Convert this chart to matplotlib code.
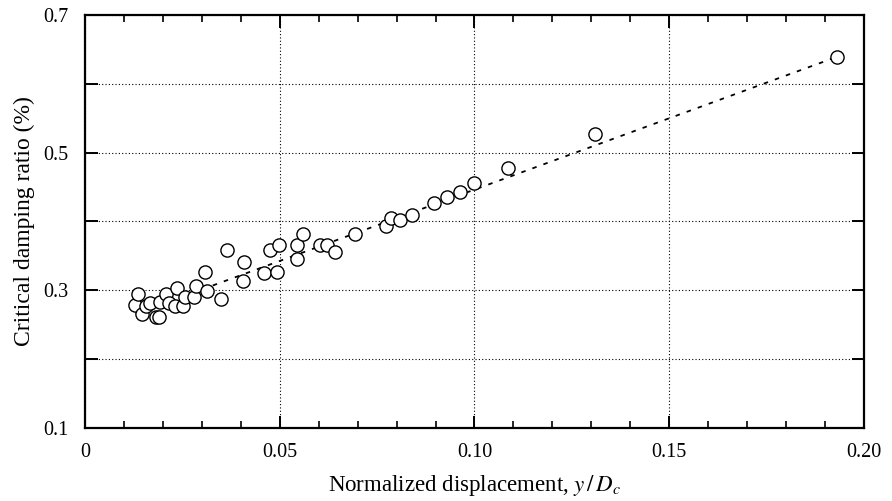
import numpy as np
import matplotlib.pyplot as plt
from matplotlib.ticker import MultipleLocator, FixedFormatter, FixedLocator

plt.rcParams['font.family'] = ['Liberation Serif', 'DejaVu Serif']
plt.rcParams['mathtext.fontset'] = 'stix'

# Normalized displacement y/Dc and critical damping ratio (%)
disp = [0.0128, 0.0136, 0.0146, 0.0157, 0.0167, 0.0182, 0.0190, 0.0193, 0.0208,
        0.0216, 0.0231, 0.0236, 0.0252, 0.0257, 0.0280, 0.0285, 0.0308, 0.0313,
        0.0349, 0.0364, 0.0406, 0.0408, 0.0460, 0.0475, 0.0493, 0.0498, 0.0544,
        0.0544, 0.0560, 0.0603, 0.0621, 0.0642, 0.0693, 0.0773, 0.0786, 0.0809,
        0.0840, 0.0896, 0.0929, 0.0963, 0.0999, 0.1086, 0.1310, 0.1930]
damping = [0.278, 0.294, 0.266, 0.277, 0.281, 0.261, 0.261, 0.283, 0.294,
           0.281, 0.277, 0.304, 0.277, 0.291, 0.291, 0.307, 0.326, 0.299,
           0.287, 0.359, 0.313, 0.341, 0.325, 0.358, 0.326, 0.366, 0.366,
           0.345, 0.382, 0.366, 0.366, 0.355, 0.382, 0.393, 0.405, 0.402,
           0.409, 0.427, 0.435, 0.443, 0.456, 0.478, 0.527, 0.639]

# dashed trend line end points
fit_x = [0.013, 0.192]
fit_y = [0.266, 0.637]

y_tick_vals = [0.1, 0.2, 0.3, 0.4, 0.5, 0.6, 0.7]
y_tick_text = ['0.1', '', '0.3', '', '0.5', '', '0.7']
x_tick_vals = [0, 0.05, 0.10, 0.15, 0.20]
x_tick_text = ['0', '0.05', '0.10', '0.15', '0.20']

fig = plt.figure(figsize=(8.92, 5.01), dpi=100)
ax = fig.add_axes([0.0953, 0.1457, 0.8733, 0.8244])

ax.plot(fit_x, fit_y, color='black', linestyle=(0, (2.5, 4)), linewidth=1.3, zorder=2)
ax.plot(disp, damping, linestyle='none', marker='o', markersize=9.5,
        markerfacecolor='white', markeredgecolor='black', markeredgewidth=1.0, zorder=3)

ax.set_xlim(0, 0.20)
ax.set_ylim(0.1, 0.7)

ax.xaxis.set_major_locator(FixedLocator(x_tick_vals))
ax.xaxis.set_major_formatter(FixedFormatter(x_tick_text))
ax.xaxis.set_minor_locator(MultipleLocator(0.01))
ax.yaxis.set_major_locator(FixedLocator(y_tick_vals))
ax.yaxis.set_major_formatter(FixedFormatter(y_tick_text))

ax.tick_params(which='both', direction='in', top=True, right=True, color='black')
ax.tick_params(which='major', length=9, width=1.4)
ax.tick_params(which='minor', length=5, width=1.2)
ax.tick_params(axis='x', which='major', labelsize=14.5, pad=11)
ax.tick_params(axis='y', which='major', labelsize=14.5, pad=12)

ax.grid(True, which='major', linestyle=(0, (1, 2)), color='black', linewidth=0.8)
for s in ax.spines.values():
    s.set_linewidth(1.6)

ax.set_xlabel('Normalized displacement, $y\\,/\\,D_c$', fontsize=16.5, labelpad=8)
ax.set_ylabel('Critical damping ratio (%)', fontsize=17, labelpad=6)

fig.savefig('out.png', dpi=100)
